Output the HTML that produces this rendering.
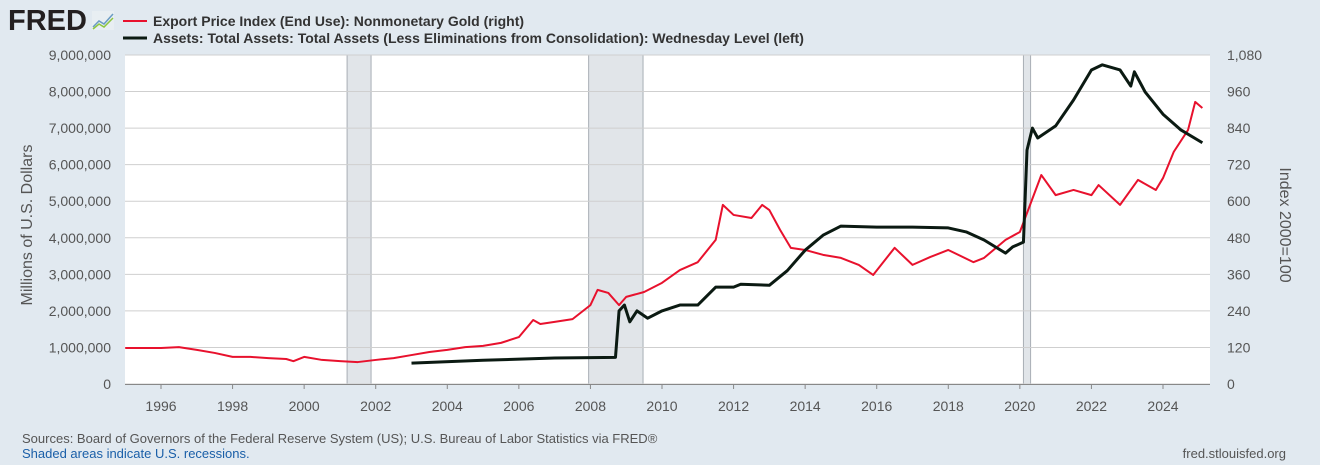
<!DOCTYPE html>
<html><head><meta charset="utf-8"><style>
body{margin:0;width:1320px;height:465px;background:#e1e9f0;font-family:"Liberation Sans",sans-serif;overflow:hidden}
svg{position:absolute;left:0;top:0}
</style></head><body>
<svg id="c" width="1320" height="465">
<rect x="0" y="0" width="1320" height="465" fill="#e1e9f0"/>
<text x="8" y="30" font-size="29" font-weight="bold" fill="#231f20">FRED</text>
<g><rect x="92" y="11" width="22" height="19" fill="#e8eef2"/><polyline points="93,27 99,21 104,24 113,14" fill="none" stroke="#6a9bc3" stroke-width="1.5"/><polyline points="93,29 99,24 104,27 113,18" fill="none" stroke="#8dc63f" stroke-width="1.5"/></g>
<line x1="123" y1="21" x2="147" y2="21" stroke="#e8112d" stroke-width="2"/>
<text x="153" y="26" font-size="14" font-weight="bold" fill="#333">Export Price Index (End Use): Nonmonetary Gold (right)</text>
<line x1="123" y1="38" x2="147" y2="38" stroke="#0b1a12" stroke-width="3"/>
<text x="153" y="43" font-size="14" font-weight="bold" fill="#333">Assets: Total Assets: Total Assets (Less Eliminations from Consolidation): Wednesday Level (left)</text>
<rect x="125" y="55" width="1085" height="329" fill="#fff"/>
<g id="rec"></g><g id="grid"></g><g id="axes"></g><g id="series"></g>
<text x="32" y="225" font-size="16" fill="#555" transform="rotate(-90 32 225)" text-anchor="middle">Millions of U.S. Dollars</text>
<text x="1280" y="225" font-size="16" fill="#555" transform="rotate(90 1280 225)" text-anchor="middle">Index 2000=100</text>
<text x="22" y="443" font-size="13" fill="#555">Sources: Board of Governors of the Federal Reserve System (US); U.S. Bureau of Labor Statistics via FRED®</text>
<text x="22" y="458" font-size="13" fill="#1a5fa8">Shaded areas indicate U.S. recessions.</text>
<text x="1286" y="458" font-size="13" fill="#555" text-anchor="end">fred.stlouisfed.org</text>
</svg>
<script>
const leftTicks=[0,1,2,3,4,5,6,7,8,9];
const rightTicks=[0,120,240,360,480,600,720,840,960,1080];
const xTicks=[1996,1998,2000,2002,2004,2006,2008,2010,2012,2014,2016,2018,2020,2022,2024];
const recessions=[[2001.2,2001.87],[2007.95,2009.47],[2020.1,2020.3]];
const goldYears=[1995.0,1996.0,1996.5,1997.0,1997.5,1998.0,1998.5,1999.0,1999.5,1999.7,2000.0,2000.5,2001.0,2001.5,2002.0,2002.5,2003.0,2003.5,2004.0,2004.5,2005.0,2005.5,2006.0,2006.4,2006.6,2007.0,2007.5,2008.0,2008.2,2008.5,2008.8,2009.0,2009.5,2010.0,2010.5,2011.0,2011.5,2011.7,2012.0,2012.5,2012.8,2013.0,2013.3,2013.6,2014.0,2014.5,2015.0,2015.5,2015.9,2016.5,2017.0,2017.5,2018.0,2018.7,2019.0,2019.6,2020.0,2020.6,2021.0,2021.5,2022.0,2022.2,2022.8,2023.3,2023.8,2024.0,2024.3,2024.7,2024.9,2025.1];
const goldValues=[118,118,121,112,102,89,89,85,82,75,89,79,75,72,79,85,95,105,112,121,125,135,154,210,197,204,213,259,309,299,259,286,302,332,374,400,473,588,555,545,588,571,506,447,440,424,414,391,358,447,391,417,440,400,414,473,499,686,620,637,620,653,588,670,637,676,762,834,926,906];
const assetYears=[2003.0,2005.0,2007.0,2008.7,2008.8,2008.95,2009.1,2009.3,2009.6,2010.0,2010.5,2011.0,2011.5,2012.0,2012.2,2013.0,2013.5,2014.0,2014.5,2015.0,2016.0,2017.0,2018.0,2018.5,2019.0,2019.6,2019.8,2020.1,2020.2,2020.35,2020.5,2021.0,2021.5,2022.0,2022.3,2022.8,2023.1,2023.2,2023.5,2024.0,2024.5,2025.1];
const assetValues=[0.57,0.65,0.71,0.73,2.0,2.16,1.7,2.0,1.8,2.0,2.16,2.16,2.65,2.65,2.73,2.7,3.1,3.66,4.07,4.32,4.29,4.29,4.27,4.16,3.94,3.58,3.75,3.88,6.4,7.0,6.73,7.06,7.77,8.59,8.73,8.59,8.15,8.54,7.99,7.38,6.95,6.6];
const NS="http://www.w3.org/2000/svg";
const X=y=>161+(y-1996)*(1163-161)/28;
const YL=v=>384-v*329/9;
const YR=v=>384-v*329/1080;
function mk(tag,attrs,parent){const e=document.createElementNS(NS,tag);for(const k in attrs)e.setAttribute(k,attrs[k]);document.getElementById(parent).appendChild(e);return e;}
recessions.forEach(r=>{const e=mk('rect',{x:X(r[0]),y:55,width:X(r[1])-X(r[0]),height:329,fill:'#e1e5e9',stroke:'#a8aeb5','stroke-width':1},'rec');

});
leftTicks.forEach((v,i)=>{const y=YL(v);
const g=mk('line',{x1:125,x2:1210,y1:y,y2:y,stroke:'#cfcfcf','stroke-width':1},'grid');


const t=mk('text',{x:111,y:y+5,'font-size':14,fill:'#555','text-anchor':'end'},'axes');t.textContent=v===0?'0':(v.toLocaleString('en-US')+',000,000');

});
rightTicks.forEach(v=>{const t=mk('text',{x:1227,y:YR(v)+5,'font-size':14,fill:'#555'},'axes');t.textContent=v.toLocaleString('en-US');

});
xTicks.forEach(v=>{const x=X(v);
const l=mk('line',{x1:x,x2:x,y1:384,y2:389,stroke:'#888'},'axes');


const t=mk('text',{x:x,y:411,'font-size':14,fill:'#555','text-anchor':'middle'},'axes');t.textContent=v;

});
const ax=mk('line',{x1:125,x2:1210,y1:384.5,y2:384.5,stroke:'#888'},'axes');


const gp=mk('polyline',{points:goldYears.map((y,i)=>X(y)+','+YR(goldValues[i])).join(' '),fill:'none',stroke:'#e8112d','stroke-width':2,'stroke-linejoin':'round'},'series');


const ap=mk('polyline',{points:assetYears.map((y,i)=>X(y)+','+YL(assetValues[i])).join(' '),fill:'none',stroke:'#0b1a12','stroke-width':3,'stroke-linejoin':'round'},'series');


</script>
</body></html>
